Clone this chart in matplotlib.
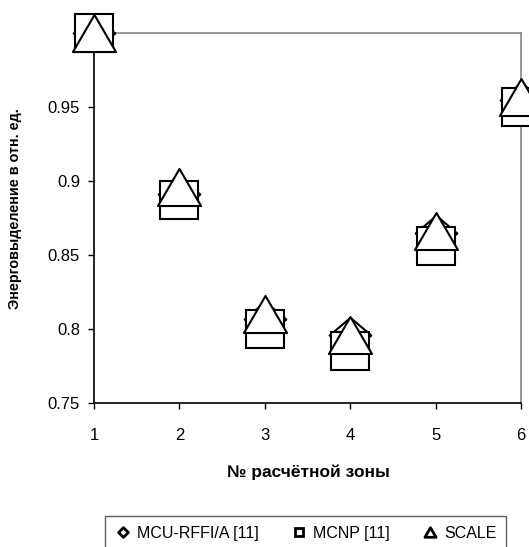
import matplotlib
matplotlib.use("Agg")
import matplotlib.pyplot as plt
from matplotlib.path import Path
from matplotlib.lines import Line2D

plt.rcParams['font.family'] = ['Liberation Sans', 'DejaVu Sans']

zones = [1, 2, 3, 4, 5, 6]
mcu_rffi = [1.0, 0.891, 0.807, 0.796, 0.865, 0.955]
mcnp = [1.0, 0.887, 0.800, 0.785, 0.856, 0.950]
scale = [1.0, 0.896, 0.810, 0.796, 0.866, 0.957]

labels = ['MCU-RFFI/A [11]', 'MCNP [11]', 'SCALE']
y_ticks = [0.75, 0.8, 0.85, 0.9, 0.95]
y_tick_labels = ['0.75', '0.8', '0.85', '0.9', '0.95']

W, H = 529, 547
fig = plt.figure(figsize=(W / 100, H / 100), dpi=100)
ax = fig.add_axes([94 / W, (H - 403) / H, (521 - 94) / W, (403 - 33) / H])

diamond = Path([(0, 0.85), (1, 0), (0, -0.85), (-1, 0), (0, 0.85)],
               [Path.MOVETO, Path.LINETO, Path.LINETO, Path.LINETO, Path.CLOSEPOLY])
diamond_leg = Path([(0, 1), (1, 0), (0, -1), (-1, 0), (0, 1)],
                   [Path.MOVETO, Path.LINETO, Path.LINETO, Path.LINETO, Path.CLOSEPOLY])
tri = Path([(-1, -0.86), (0, 0.86), (1, -0.86), (-1, -0.86)],
           [Path.MOVETO, Path.LINETO, Path.LINETO, Path.CLOSEPOLY])

ax.plot(zones, mcu_rffi, linestyle='none', marker=diamond, markersize=30,
        markerfacecolor='white', markeredgecolor='black', markeredgewidth=1.5,
        clip_on=False, zorder=3)
ax.plot(zones, mcnp, linestyle='none', marker='s', markersize=27.5,
        markerfacecolor='white', markeredgecolor='black', markeredgewidth=1.5,
        clip_on=False, zorder=4)
ax.plot(zones, scale, linestyle='none', marker=tri, markersize=31,
        markerfacecolor='white', markeredgecolor='black', markeredgewidth=1.5,
        clip_on=False, zorder=5)

ax.set_xlim(1, 6)
ax.set_ylim(0.75, 1.0)
ax.set_xticks(zones)
ax.set_xticklabels([str(z) for z in zones])
ax.set_yticks(y_ticks)
ax.set_yticklabels(y_tick_labels)
ax.tick_params(axis='both', direction='out', length=4, width=1, labelsize=12,
               colors='black')
ax.tick_params(axis='x', pad=14)
ax.tick_params(axis='y', pad=6)

for s in ['left', 'bottom']:
    ax.spines[s].set_color('black')
    ax.spines[s].set_linewidth(1.2)
for s in ['top', 'right']:
    ax.spines[s].set_color('#888888')
    ax.spines[s].set_linewidth(1.2)

fig.text(15 / W, 1 - 209 / H, 'Энерговыделение в отн. ед.', rotation=90,
         ha='center', va='center', fontsize=10.4, fontweight='bold')
fig.text(308 / W, 1 - 472 / H, '№ расчётной зоны', ha='center', va='center',
         fontsize=12.5, fontweight='bold')

handles = [
    Line2D([], [], linestyle='none', marker=diamond_leg, markersize=7,
           markerfacecolor='white', markeredgecolor='black', markeredgewidth=2),
    Line2D([], [], linestyle='none', marker='s', markersize=6,
           markerfacecolor='white', markeredgecolor='black', markeredgewidth=2),
    Line2D([], [], linestyle='none', marker=tri, markersize=8,
           markerfacecolor='white', markeredgecolor='black', markeredgewidth=2),
]
leg = fig.legend(handles, labels, loc='upper left',
                 bbox_to_anchor=(105 / W, 1 - 516 / H), ncol=3,
                 fontsize=11.5, frameon=True, fancybox=False, borderpad=0.6,
                 handlelength=1.0, handletextpad=0.4, columnspacing=2.0,
                 borderaxespad=0)
leg.get_frame().set_edgecolor('#333333')
leg.get_frame().set_linewidth(1.0)

fig.savefig('out.png', dpi=100)
